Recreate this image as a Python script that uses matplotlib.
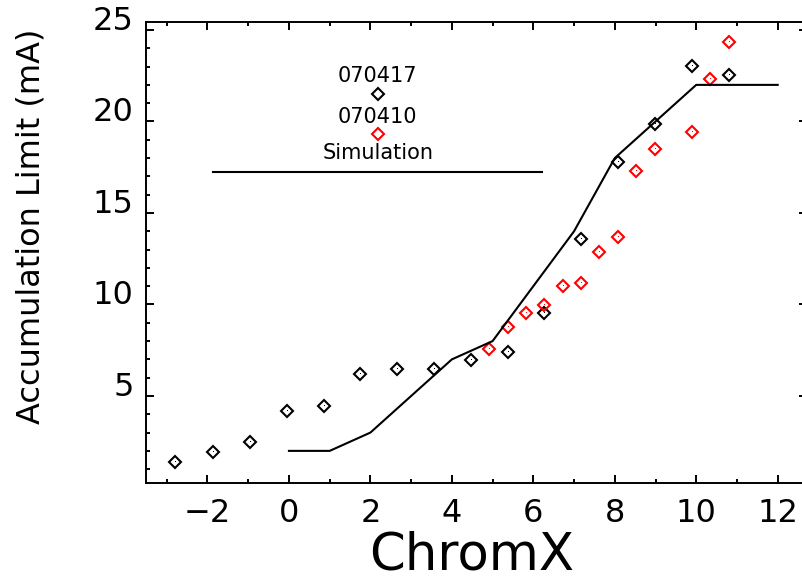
import matplotlib.pyplot as plt
from matplotlib.ticker import MultipleLocator

plt.rcParams['font.family'] = ['DejaVu Sans']

# measured accumulation limit, run 070417 (black)
x_0417 = [-2.79, -1.86, -0.96, -0.06, 0.85, 1.75, 2.65, 3.56, 4.46, 5.37,
          6.27, 7.17, 8.08, 8.98, 9.90, 10.81]
y_0417 = [1.38, 1.96, 2.47, 4.18, 4.46, 6.19, 6.48, 6.48, 6.97, 7.39,
          9.56, 13.60, 17.78, 19.87, 23.01, 22.52]

# measured accumulation limit, run 070410 (red)
x_0410 = [4.91, 5.37, 5.82, 6.27, 6.72, 7.17, 7.62, 8.08, 8.53, 8.98,
          9.90, 10.35, 10.81]
y_0410 = [7.57, 8.76, 9.56, 9.98, 11.02, 11.20, 12.89, 13.70, 17.30, 18.51,
          19.40, 22.32, 24.32]

# simulated limit
x_sim = [0, 1, 2, 4, 5, 7, 8, 10, 12]
y_sim = [2.0, 2.0, 3.0, 7.0, 8.0, 14.0, 18.0, 22.0, 22.0]

xticks = [-2, 0, 2, 4, 6, 8, 10, 12]
yticks = [5, 10, 15, 20, 25]

fig = plt.figure(figsize=(8.03, 5.83), dpi=100)
ax = fig.add_axes([0.1818, 0.172, 0.8232, 0.7907])

mk = dict(marker='D', ms=6, mew=1.5, mfc='none', ls='none')
ax.plot(x_0417, y_0417, color='black', **mk)
ax.plot(x_0410, y_0410, color='red', **mk)
ax.plot(x_0417, y_0417, ',', color='black')
ax.plot(x_0410, y_0410, ',', color='red')
ax.plot(x_sim, y_sim, color='black', lw=1.5)

# legend block in data units
leg_x = 2.18
ax.text(leg_x, 22.18, '070417', ha='center', va='baseline', fontsize=15)
ax.plot([leg_x], [21.49], color='black', **mk)
ax.text(leg_x, 19.90, '070410', ha='center', va='baseline', fontsize=15)
ax.plot([leg_x], [19.32], color='red', **mk)
ax.text(leg_x, 17.95, 'Simulation', ha='center', va='baseline', fontsize=15)
ax.plot([-1.86, 6.22], [17.22, 17.22], color='black', lw=1.5)

ax.set_xlim(-3.51, 12.72)
ax.set_ylim(0.26, 25.45)
ax.set_xticks(xticks)
ax.set_yticks(yticks)
ax.xaxis.set_minor_locator(MultipleLocator(1))
ax.yaxis.set_minor_locator(MultipleLocator(1))
ax.tick_params(which='both', direction='in', top=True, right=True, width=1.4)
ax.tick_params(which='major', length=6, labelsize=23)
ax.tick_params(which='minor', length=3)
ax.tick_params(axis='x', pad=11)
ax.tick_params(axis='y', pad=9)
for lab in ax.get_yticklabels():
    lab.set_verticalalignment('baseline')
for s in ax.spines.values():
    s.set_linewidth(1.4)

ax.set_xlabel('ChromX', fontsize=37, va='bottom')
ax.xaxis.set_label_coords(0.492, -0.212)
ax.set_ylabel('Accumulation Limit (mA)', fontsize=23)
ax.yaxis.set_label_coords(-0.15, 0.557)

fig.savefig('out.png', dpi=100)
